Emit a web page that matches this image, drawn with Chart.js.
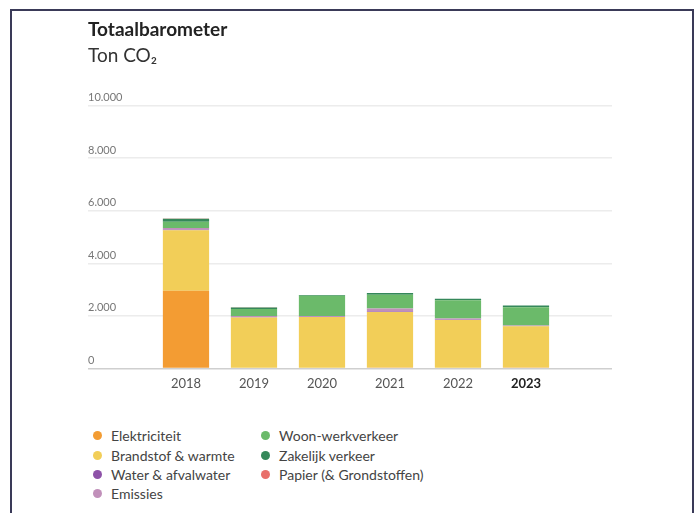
<!DOCTYPE html>
<html>
<head>
<meta charset="utf-8">
<script src="https://cdn.jsdelivr.net/npm/chart.js@4/dist/chart.umd.min.js"></script>
<style>
  html, body { margin: 0; padding: 0; background: #fff; }
  body { width: 696px; height: 513px; position: relative; overflow: hidden; font-family: Lato, sans-serif; }
  #frame { position: absolute; left: 10px; top: 9px; width: 680px; height: 520px;
           border: 2px solid #3a3a58; border-bottom: none; }
  #chartWrap { position: absolute; left: 0; top: 0; }
  #legend { position: absolute; left: 93px; top: 426px; display: grid;
            grid-template-rows: repeat(4, 19.4px); grid-auto-flow: column;
            grid-template-columns: 168px auto; }
  .item { display: flex; align-items: center; font-size: 14px; color: #444; }
  .dot { width: 9px; height: 9px; border-radius: 50%; margin-right: 9px; }
</style>
</head>
<body>
<div id="frame"></div>
<div id="chartWrap"><canvas id="barometer" width="696" height="401"></canvas></div>
<div id="legend"></div>
<script>
// Ton CO2 per jaar
const years = [2018, 2019, 2020, 2021, 2022, 2023];
const elektriciteit = [2950, 0, 0, 30, 20, 30];
const brandstof = [2310, 1940, 1960, 2115, 1820, 1570];
const water = [20, 10, 10, 20, 10, 10];
const emissies = [60, 40, 20, 110, 50, 20];
const woonWerk = [240, 270, 770, 530, 690, 700];
const zakelijk = [110, 60, 30, 60, 60, 60];
const papier = [10, 5, 5, 5, 5, 5];
const yTicks = [0, 2000, 4000, 6000, 8000, 10000];

const series = [
    { label: 'Elektriciteit', values: elektriciteit, color: '#F39C33' },
    { label: 'Brandstof & warmte', values: brandstof, color: '#F2CE58' },
    { label: 'Water & afvalwater', values: water, color: '#8E52A8' },
    { label: 'Emissies', values: emissies, color: '#C190BA' },
    { label: 'Woon-werkverkeer', values: woonWerk, color: '#6BBA6A' },
    { label: 'Zakelijk verkeer', values: zakelijk, color: '#35885A' },
    { label: 'Papier (& Grondstoffen)', values: papier, color: '#E8706B' }
];

const fmt = v => String(v).replace(/\B(?=(\d{3})+(?!\d))/g, '.');

const ctx = document.getElementById('barometer').getContext('2d');
const chart = new Chart(ctx, {
    type: 'bar',
    data: {
        datasets: series.map(s => ({
            label: s.label,
            data: years.map((yr, i) => ({ x: yr, y: s.values[i] })),
            backgroundColor: s.color,
            borderWidth: 0,
            categoryPercentage: 0.8,
            barPercentage: 0.85
        }))
    },
    options: {
        responsive: false,
        animation: false,
        layout: { padding: { left: 88, right: 84, top: 0, bottom: 9 } },
        plugins: {
            legend: { display: false },
            tooltip: { enabled: false },
            title: {
                display: true,
                text: 'Totaalbarometer',
                align: 'start',
                color: '#222',
                font: { family: 'Lato', size: 19, weight: 'bold' },
                padding: { top: 18, bottom: 4 }
            },
            subtitle: {
                display: true,
                text: 'Ton CO\u2082',
                align: 'start',
                color: '#333',
                font: { family: 'Lato', size: 19 },
                padding: { top: 0, bottom: 38 }
            }
        },
        scales: {
            x: {
                type: 'linear',
                stacked: true,
                offset: false,
                bounds: 'data',
                min: 2016.559,
                max: 2024.265,
                grid: { display: false },
                border: { display: false },
                afterBuildTicks: scale => { scale.ticks = years.map(v => ({ value: v })); },
                ticks: {
                    padding: 0,
                    callback: v => String(v),
                    color: c => c.tick && c.tick.value === 2023 ? '#222' : '#555',
                    font: c => ({
                        family: 'Lato',
                        size: 13,
                        weight: c.tick && c.tick.value === 2023 ? 'bold' : 'normal'
                    })
                }
            },
            y: {
                stacked: true,
                min: 0,
                max: 10000,
                border: { display: false },
                grid: {
                    drawTicks: false,
                    lineWidth: 1.5,
                    color: c => c.tick && c.tick.value === 0 ? '#cfcfcf' : '#ececec'
                },
                afterBuildTicks: scale => { scale.ticks = yTicks.map(v => ({ value: v })); },
                ticks: {
                    mirror: true,
                    padding: 0,
                    labelOffset: -8,
                    color: '#777',
                    font: { family: 'Lato', size: 11 },
                    callback: v => fmt(v)
                }
            }
        }
    }
});

// legenda in twee kolommen, opgebouwd uit de datasets
const legendEl = document.getElementById('legend');
chart.data.datasets.forEach(ds => {
    const item = document.createElement('div');
    item.className = 'item';
    const dot = document.createElement('span');
    dot.className = 'dot';
    dot.style.background = ds.backgroundColor;
    const txt = document.createElement('span');
    txt.textContent = ds.label;
    item.appendChild(dot);
    item.appendChild(txt);
    legendEl.appendChild(item);
});
</script>
</body>
</html>
